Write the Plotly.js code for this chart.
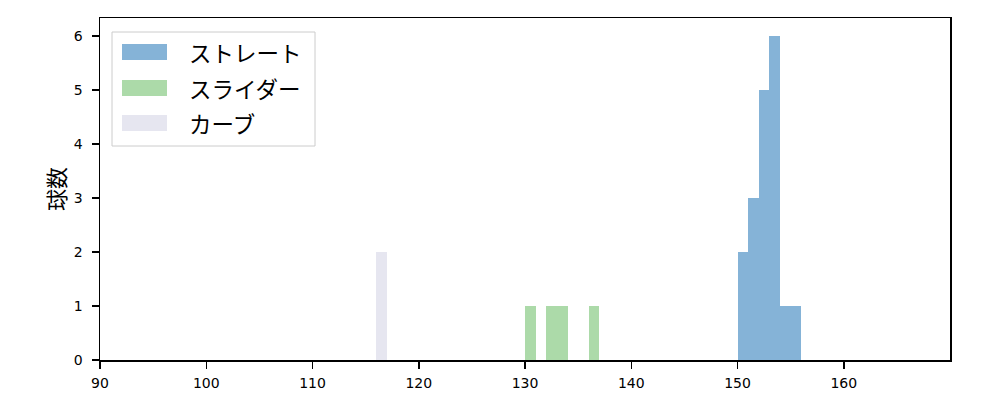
<!DOCTYPE html>
<html>
<head>
<meta charset="utf-8">
<script src="https://cdn.plot.ly/plotly-3.0.1.min.js"></script>
<style>html,body{margin:0;padding:0;background:#fff;}#chart{width:1000px;height:400px;}</style>
</head>
<body>
<div id="chart"></div>
<script>
// Series names
const seriesNames = ["ストレート", "スライダー", "カーブ"];
// Bin left edges (km/h) and counts, bin width 1
const straightBins = [150, 151, 152, 153, 154, 155];
const straightCounts = [2, 3, 5, 6, 1, 1];
const sliderBins = [130, 132, 133, 136];
const sliderCounts = [1, 1, 1, 1];
const curveBins = [116];
const curveCounts = [2];
const xTicks = [90, 100, 110, 120, 130, 140, 150, 160];
const yTicks = [0, 1, 2, 3, 4, 5, 6];
const yTitle = "球数";

const colors = ["#85b3d7", "#acdaa9", "#e6e6f0"];
const font = "'Noto Sans CJK JP', 'DejaVu Sans', sans-serif";
const tickFontFamily = "'DejaVu Sans', sans-serif";

function barTrace(bins, counts, name, color) {
  return {type: "bar", x: bins, y: counts, width: 1, offset: 0, name: name,
          marker: {color: color, line: {width: 0}}, showlegend: false};
}
const data = [
  barTrace(straightBins, straightCounts, seriesNames[0], colors[0]),
  barTrace(sliderBins, sliderCounts, seriesNames[1], colors[1]),
  barTrace(curveBins, curveCounts, seriesNames[2], colors[2])
];

// plot area in pixels
const L = 100, R = 950, T = 18, B = 360;
const px = x => (x - L) / (R - L);
const py = y => (B - y) / (B - T);

const shapes = [];
const annotations = [];
// legend box
shapes.push({type: "rect", xref: "paper", yref: "paper", x0: px(112), x1: px(315), y0: py(146), y1: py(32),
  line: {color: "#cccccc", width: 1}, fillcolor: "rgba(255,255,255,0.8)", layer: "above"});
const rowsY = [52, 88, 123];
seriesNames.forEach((n, i) => {
  shapes.push({type: "rect", xref: "paper", yref: "paper", x0: px(122), x1: px(167),
    y0: py(rowsY[i] + 8), y1: py(rowsY[i] - 8), line: {width: 0}, fillcolor: colors[i], layer: "above"});
  annotations.push({xref: "paper", yref: "paper", x: px(187), y: py(rowsY[i]), xanchor: "left", yanchor: "middle",
    text: n, showarrow: false, font: {family: font, size: 22.5, color: "#000"}});
});

const axisCommon = {ticks: "outside", ticklen: 7, tickwidth: 1.5, tickcolor: "#000",
  showline: true, linecolor: "#000", linewidth: 1.5, mirror: true, showgrid: false, zeroline: false,
  tickfont: {family: tickFontFamily, size: 14, color: "#000"}};

const layout = {
  width: 1000, height: 400,
  margin: {l: L, r: 1000 - R, t: T, b: 400 - B},
  paper_bgcolor: "#fff", plot_bgcolor: "#fff",
  bargap: 0, barmode: "overlay",
  font: {family: font, size: 14, color: "#000"},
  xaxis: Object.assign({range: [90, 170], tickvals: xTicks, ticklabelstandoff: 3}, axisCommon),
  yaxis: Object.assign({range: [0, 6.33], tickvals: yTicks, ticklabelstandoff: 6,
    title: {text: yTitle, font: {family: font, size: 22}, standoff: 2}}, axisCommon),
  shapes: shapes, annotations: annotations, showlegend: false
};
Plotly.newPlot("chart", data, layout, {staticPlot: true});
</script>
</body>
</html>
